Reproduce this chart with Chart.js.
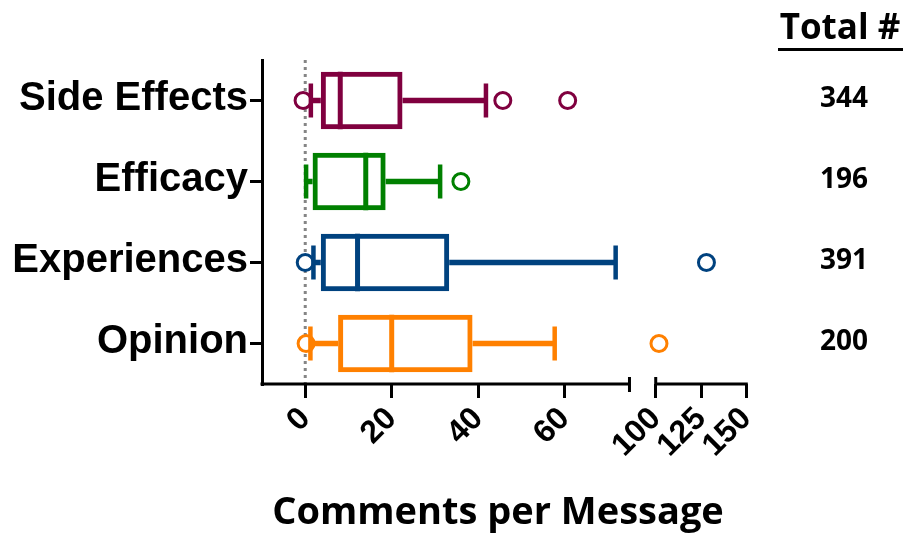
<!DOCTYPE html>
<html>
<head>
<meta charset="utf-8">
<script src="https://cdn.jsdelivr.net/npm/chart.js@4.4.1/dist/chart.umd.min.js"></script>
<style>
  html, body { margin: 0; padding: 0; background: #fff; }
</style>
</head>
<body>
<canvas id="boxChart" width="907" height="537"></canvas>
<script>
// categories (top to bottom)
const categories = ['Side Effects', 'Efficacy', 'Experiences', 'Opinion'];
const colors = ['#80003f', '#008000', '#00427f', '#ff8000'];

// box plot values (comments per message)
const whiskerLow  = [1.3, 0.2, 1.9, 1.2];
const q1          = [3.6, 1.7, 3.6, 7.6];
const median      = [8.1, 14.0, 12.1, 20.0];
const q3          = [22.5, 18.6, 33.3, 38.7];
const whiskerHigh = [41.8, 31.2, 71.8, 57.7];
const outliers    = [[-0.5, 45.7, 60.7], [36.0], [0, 128.0], [0.2, 101.8]];

// message totals shown on the right
const totals = [344, 196, 391, 200];

// axis ticks; the axis is broken between 75 and 100
const tickValues = [0, 20, 40, 60, 100, 125, 150];
const axisMin = -10;
const breakStart = 75;
const breakEnd = 100;
const axisEnd = 150;

// map a real value onto the broken axis
function tx(v) {
  if (v <= breakStart) return v;
  return breakStart + 6.07 + (v - breakEnd) * 0.419;
}

const outlierPoints = [];
const outlierColors = [];
outliers.forEach(function (list, i) {
  list.forEach(function (v) {
    outlierPoints.push({ x: tx(v), y: categories[i] });
    outlierColors.push(colors[i]);
  });
});

const boxPlugin = {
  id: 'boxParts',
  beforeDatasetsDraw: function (chart) {
    const ctx = chart.ctx;
    const x = chart.scales.x;
    const area = chart.chartArea;
    // dotted zero line
    ctx.save();
    ctx.strokeStyle = '#858585';
    ctx.lineWidth = 3;
    ctx.setLineDash([3, 4]);
    ctx.beginPath();
    ctx.moveTo(x.getPixelForValue(0), area.top);
    ctx.lineTo(x.getPixelForValue(0), area.bottom);
    ctx.stroke();
    ctx.restore();
  },
  afterDatasetsDraw: function (chart) {
    const ctx = chart.ctx;
    const x = chart.scales.x;
    const bars = chart.getDatasetMeta(0).data;
    ctx.save();
    ctx.lineCap = 'butt';
    categories.forEach(function (c, i) {
      const bar = bars[i];
      const y = bar.y;
      const half = bar.height / 2;
      ctx.strokeStyle = colors[i];
      // whiskers
      ctx.lineWidth = 5.5;
      ctx.beginPath();
      ctx.moveTo(x.getPixelForValue(tx(whiskerLow[i])), y);
      ctx.lineTo(x.getPixelForValue(tx(q1[i])), y);
      ctx.moveTo(x.getPixelForValue(tx(q3[i])), y);
      ctx.lineTo(x.getPixelForValue(tx(whiskerHigh[i])), y);
      ctx.stroke();
      // caps
      ctx.lineWidth = 4.5;
      ctx.beginPath();
      [whiskerLow[i], whiskerHigh[i]].forEach(function (v) {
        const px = x.getPixelForValue(tx(v));
        ctx.moveTo(px, y - 17);
        ctx.lineTo(px, y + 17);
      });
      ctx.stroke();
      // median
      ctx.lineWidth = 5;
      ctx.beginPath();
      const mx = x.getPixelForValue(tx(median[i]));
      ctx.moveTo(mx, y - half);
      ctx.lineTo(mx, y + half);
      ctx.stroke();
    });
    ctx.restore();
  },
  afterDraw: function (chart) {
    const ctx = chart.ctx;
    const x = chart.scales.x;
    const yScale = chart.scales.y;
    const area = chart.chartArea;
    const b = area.bottom;
    ctx.save();
    // broken x axis
    ctx.strokeStyle = '#000';
    ctx.lineWidth = 3;
    ctx.beginPath();
    ctx.moveTo(area.left - 1.5, b);
    ctx.lineTo(x.getPixelForValue(tx(breakStart)), b);
    ctx.moveTo(x.getPixelForValue(tx(breakEnd)), b);
    ctx.lineTo(x.getPixelForValue(tx(axisEnd)) + 1.5, b);
    ctx.stroke();
    ctx.beginPath();
    ctx.moveTo(x.getPixelForValue(tx(breakStart)), b - 7);
    ctx.lineTo(x.getPixelForValue(tx(breakStart)), b + 8);
    ctx.moveTo(x.getPixelForValue(tx(breakEnd)), b - 7);
    ctx.lineTo(x.getPixelForValue(tx(breakEnd)), b);
    ctx.stroke();

    // totals column
    ctx.fillStyle = '#000';
    ctx.textAlign = 'center';
    ctx.textBaseline = 'alphabetic';
    ctx.font = 'bold 35px "Open Sans"';
    ctx.fillText('Total #', 840, 39);
    ctx.fillRect(778, 48, 125, 3);
    ctx.font = 'bold 28px "Open Sans"';
    ctx.textBaseline = 'middle';
    totals.forEach(function (t, i) {
      ctx.fillText(String(t), 844, yScale.getPixelForValue(i) - 1);
    });

    // axis title
    ctx.font = 'bold 38px "Open Sans"';
    ctx.textBaseline = 'alphabetic';
    ctx.fillText('Comments per Message', 498, 524);
    ctx.restore();
  }
};

new Chart(document.getElementById('boxChart'), {
  type: 'bar',
  data: {
    labels: categories,
    datasets: [
      {
        type: 'bar',
        data: categories.map(function (c, i) { return [tx(q1[i]), tx(q3[i])]; }),
        backgroundColor: 'rgba(255,255,255,0)',
        borderColor: colors,
        borderWidth: 5,
        borderSkipped: false,
        barPercentage: 0.71,
        categoryPercentage: 1.0
      },
      {
        type: 'scatter',
        data: outlierPoints,
        pointRadius: 8,
        pointBorderWidth: 3,
        pointBorderColor: outlierColors,
        pointBackgroundColor: '#fff'
      }
    ]
  },
  options: {
    indexAxis: 'y',
    responsive: false,
    animation: false,
    devicePixelRatio: 1,
    layout: {
      padding: { top: 60, right: 160.7, left: 0, bottom: 0 }
    },
    plugins: {
      legend: { display: false },
      tooltip: { enabled: false }
    },
    scales: {
      x: {
        type: 'linear',
        min: axisMin,
        max: tx(axisEnd),
        afterBuildTicks: function (scale) {
          scale.ticks = tickValues.map(function (v) { return { value: tx(v) }; });
        },
        afterFit: function (scale) {
          scale.height = 153;
        },
        border: { display: false },
        grid: {
          drawOnChartArea: false,
          drawTicks: true,
          tickLength: 14,
          lineWidth: 3,
          color: '#000'
        },
        ticks: {
          autoSkip: false,
          minRotation: 45,
          maxRotation: 45,
          padding: 2,
          color: '#000',
          font: { family: '"Liberation Sans", Arial, sans-serif', size: 32, weight: 'bold' },
          callback: function (value, index) {
            return String(tickValues[index]);
          }
        }
      },
      y: {
        type: 'category',
        afterFit: function (scale) {
          scale.width = 262;
        },
        border: { display: true, color: '#000', width: 3 },
        grid: {
          offset: false,
          drawOnChartArea: false,
          drawTicks: true,
          tickLength: 12,
          lineWidth: 3,
          color: '#000'
        },
        ticks: {
          padding: 2,
          labelOffset: -2,
          color: '#000',
          font: { family: '"Liberation Sans", Arial, sans-serif', size: 40, weight: 'bold' }
        }
      }
    }
  },
  plugins: [boxPlugin]
});
</script>
</body>
</html>
